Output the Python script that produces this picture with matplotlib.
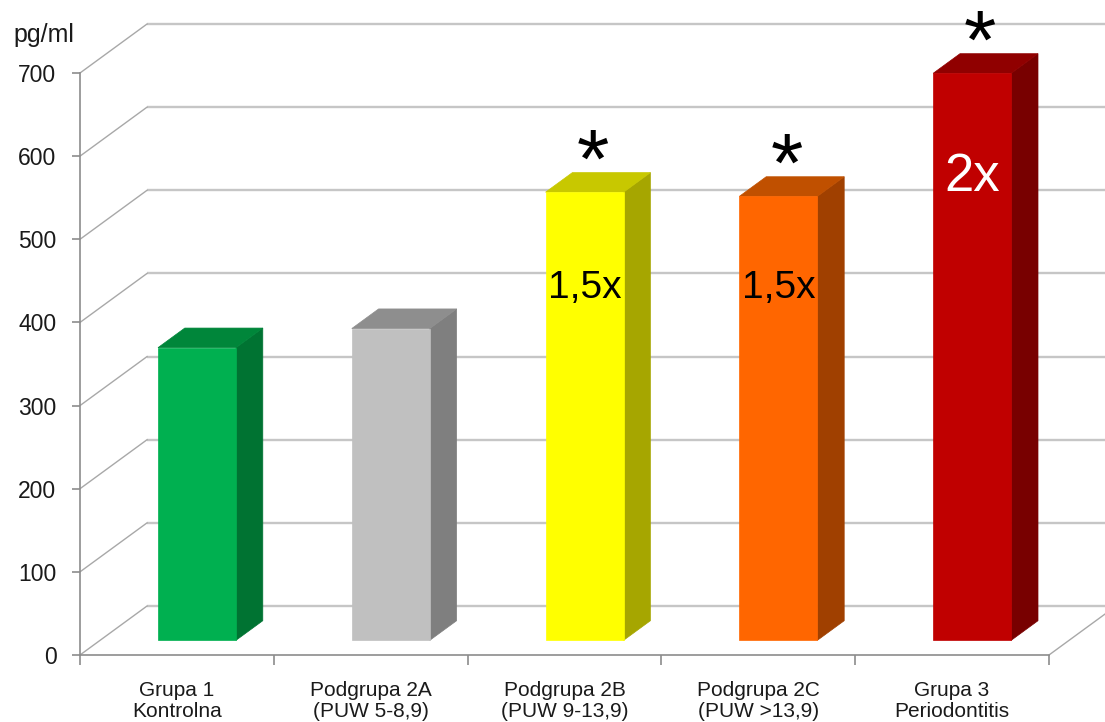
import matplotlib
matplotlib.use("Agg")
import matplotlib.pyplot as plt
from matplotlib.patches import Polygon, Rectangle

# Data
categories = ["Grupa 1\nKontrolna", "Podgrupa 2A\n(PUW 5-8,9)", "Podgrupa 2B\n(PUW 9-13,9)",
              "Podgrupa 2C\n(PUW >13,9)", "Grupa 3\nPeriodontitis"]
values = [352, 375, 539, 534, 682]
ratio_labels = ["", "", "1,5x", "1,5x", "2x"]
significant = [False, False, True, True, True]
yticks = [0, 100, 200, 300, 400, 500, 600, 700]
unit_label = "pg/ml"

# Face colours (front, side, top) per bar
front_colors = ["#00B050", "#C0C0C0", "#FFFF00", "#FF6600", "#C00000"]
side_colors = ["#007332", "#7F7F7F", "#A6A600", "#A04000", "#780000"]
top_colors = ["#00863A", "#8E8E8E", "#C8C800", "#C05000", "#900000"]
ratio_colors = ["black", "black", "black", "black", "white"]

plt.rcParams["font.family"] = ["Liberation Sans", "DejaVu Sans"]

fig = plt.figure(figsize=(11.05, 7.22), dpi=100)
ax = fig.add_axes([80 / 1105, 67 / 722, 969 / 1105, 582 / 722])
ax.set_xlim(-0.5, 4.5)
ax.set_ylim(0, 700)

# oblique depth of the chart box in data units
DX = 0.3457
DY = 58.9
# bar width and depth placement (fractions of the box depth)
W = 0.4025
D0, D1 = 0.30, 0.70

grid_back = "#C6C6C6"
grid_side = "#A8A8A8"
axis_col = "#8C8C8C"

# back wall and side wall gridlines
for v in yticks:
    ax.plot([-0.5 + DX, 4.5 + DX], [v + DY, v + DY], color=grid_back, lw=1.7,
            clip_on=False, zorder=1, solid_capstyle="butt")
    ax.plot([-0.5, -0.5 + DX], [v, v + DY], color=grid_side, lw=1.0,
            clip_on=False, zorder=1)
# right edge of the floor
ax.plot([4.5, 4.5 + DX], [0, DY], color=grid_side, lw=1.0, clip_on=False, zorder=1)

# 3D bars
ddx = (D1 - D0) * DX
ddy = (D1 - D0) * DY
for i, v in enumerate(values):
    x0 = i - W / 2 + D0 * DX
    x1 = i + W / 2 + D0 * DX
    y0 = D0 * DY
    y1 = v + D0 * DY
    side = Polygon([(x1, y0), (x1 + ddx, y0 + ddy), (x1 + ddx, y1 + ddy), (x1, y1)],
                   closed=True, facecolor=side_colors[i], edgecolor=side_colors[i],
                   lw=0.5, zorder=3, clip_on=False)
    top = Polygon([(x0, y1), (x1, y1), (x1 + ddx, y1 + ddy), (x0 + ddx, y1 + ddy)],
                  closed=True, facecolor=top_colors[i], edgecolor=top_colors[i],
                  lw=0.5, zorder=3, clip_on=False)
    front = Rectangle((x0, y0), x1 - x0, y1 - y0, facecolor=front_colors[i],
                      edgecolor=front_colors[i], lw=0.5, zorder=4, clip_on=False)
    ax.add_patch(side)
    ax.add_patch(top)
    ax.add_patch(front)

    if ratio_labels[i]:
        size = 38 if ratio_labels[i] == "2x" else 28
        ty = 575 if ratio_labels[i] == "2x" else 441
        ax.text(i + D0 * DX, ty, ratio_labels[i], ha="center", va="center",
                fontsize=size, color=ratio_colors[i], zorder=6)
    if significant[i]:
        ax.text(i + 0.145, y1 + 6, "*", ha="center", va="baseline",
                fontsize=60, color="black", zorder=6, clip_on=False)

# axes styling
for s in ["top", "right"]:
    ax.spines[s].set_visible(False)
for s in ["left", "bottom"]:
    ax.spines[s].set_color(axis_col)
    ax.spines[s].set_linewidth(1.2)
    ax.spines[s].set_zorder(2)

ax.set_yticks(yticks)
ax.set_yticklabels([str(t) for t in yticks])
ax.tick_params(axis="y", direction="out", length=6, width=1.2, color=axis_col,
               pad=11, labelsize=16.5, labelcolor="#1a1a1a")

ax.set_xticks([-0.5, 0.5, 1.5, 2.5, 3.5, 4.5])
ax.set_xticklabels([])
ax.set_xticks(range(len(categories)), minor=True)
ax.set_xticklabels(categories, minor=True, linespacing=1.1)
ax.tick_params(axis="x", which="major", direction="out", length=7, width=1.2, color=axis_col)
ax.tick_params(axis="x", which="minor", length=0, pad=19, labelsize=15, labelcolor="#1a1a1a")

fig.text(13 / 1105, 1 - 35 / 722, unit_label, ha="left", va="center", fontsize=18,
         color="#1a1a1a")

fig.savefig("out.png", dpi=100, facecolor="white")
